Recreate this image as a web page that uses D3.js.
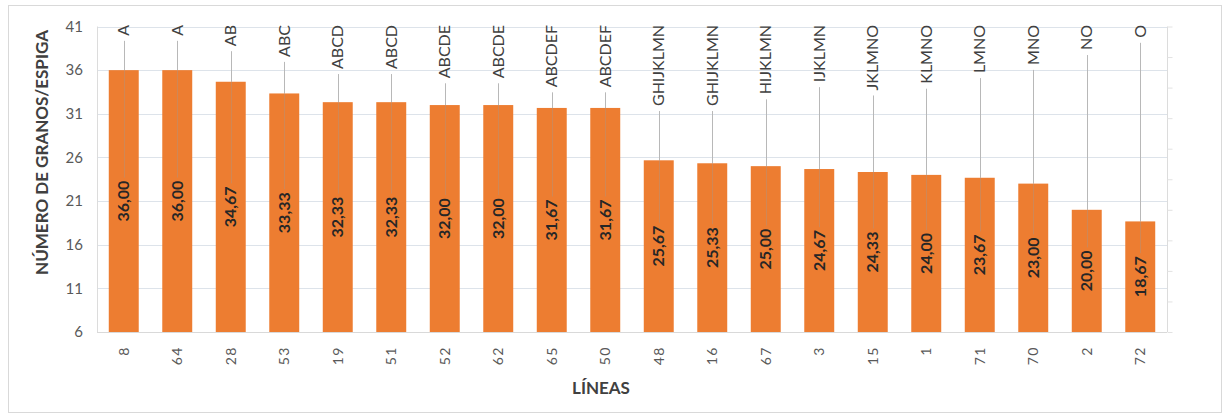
<!DOCTYPE html>
<html>
<head>
<meta charset="utf-8">
<script src="https://cdn.jsdelivr.net/npm/d3@7"></script>
<style>
  html, body { margin: 0; padding: 0; background: #fff; }
  svg { display: block; }
</style>
</head>
<body>
<svg id="chart" width="1226" height="419"></svg>
<script>
// Lines (genotypes) ordered by mean grains per spike
const lineas = ["8", "64", "28", "53", "19", "51", "52", "62", "65", "50",
                "48", "16", "67", "3", "15", "1", "71", "70", "2", "72"];
const granos = [36.00, 36.00, 34.67, 33.33, 32.33, 32.33, 32.00, 32.00, 31.67, 31.67,
                25.67, 25.33, 25.00, 24.67, 24.33, 24.00, 23.67, 23.00, 20.00, 18.67];
// Mean-separation letters
const letras = ["A", "A", "AB", "ABC", "ABCD", "ABCD", "ABCDE", "ABCDE", "ABCDEF", "ABCDEF",
                "GHIJKLMN", "GHIJKLMN", "HIJKLMN", "IJKLMN", "JKLMNO", "KLMNO", "LMNO", "MNO", "NO", "O"];
const yTicks = [6, 11, 16, 21, 26, 31, 36, 41];

const data = lineas.map((l, i) => ({ linea: l, valor: granos[i], letra: letras[i] }));

const svg = d3.select("#chart");
const font = "Lato, 'Open Sans', sans-serif";

const plot = { left: 97, right: 1167, top: 26.5, bottom: 332 };

// outer chart frame
svg.append("rect")
  .attr("x", 8.5).attr("y", 5.5)
  .attr("width", 1213).attr("height", 407)
  .attr("fill", "#fff").attr("stroke", "#d9d9d9").attr("stroke-width", 1);

const x = d3.scaleBand()
  .domain(lineas)
  .range([plot.left, plot.right])
  .paddingInner(0.44)
  .paddingOuter(0.22);

const y = d3.scaleLinear()
  .domain([6, 41])
  .range([plot.bottom, plot.top]);

const cx = d => x(d.linea) + x.bandwidth() / 2;
const midY = d => (y(d.valor) + y(6)) / 2;

// horizontal gridlines
svg.append("g")
  .selectAll("line")
  .data(yTicks)
  .join("line")
  .attr("x1", plot.left).attr("x2", plot.right)
  .attr("y1", d => Math.round(y(d)) + 0.5).attr("y2", d => Math.round(y(d)) + 0.5)
  .attr("stroke", "#dde3ea").attr("stroke-width", 1);

// plot area side borders
svg.append("line")
  .attr("x1", plot.left + 0.5).attr("x2", plot.left + 0.5)
  .attr("y1", plot.top).attr("y2", plot.bottom)
  .attr("stroke", "#dcdcdc");
svg.append("line")
  .attr("x1", plot.right + 0.5).attr("x2", plot.right + 0.5)
  .attr("y1", plot.top).attr("y2", plot.bottom)
  .attr("stroke", "#dcdcdc");

// secondary axis tick marks on the right
const y2 = d3.scaleLinear().domain([0, 10]).range([plot.bottom, plot.top]);
const axR = svg.append("g")
  .attr("transform", `translate(${plot.right + 0.5},0)`)
  .call(d3.axisRight(y2).ticks(10).tickSize(5).tickFormat(""));
axR.select(".domain").remove();
axR.selectAll("line").attr("stroke", "#e2e2e2");

// y axis labels
const axL = svg.append("g")
  .attr("transform", `translate(${plot.left},0)`)
  .call(d3.axisLeft(y).tickValues(yTicks).tickSize(0).tickPadding(14));
axL.select(".domain").remove();
axL.selectAll("text")
  .attr("font-family", font).attr("font-size", 15)
  .attr("fill", "#595959");

// letters above bars
const letterText = svg.append("g")
  .selectAll("text")
  .data(data)
  .join("text")
  .attr("transform", d => `translate(${cx(d)},${plot.top - 1.5}) rotate(-90)`)
  .attr("text-anchor", "end")
  .attr("dy", "0.35em")
  .attr("font-family", font).attr("font-size", 16)
  .attr("fill", "#404040")
  .text(d => d.letra);

letterText.each(function(d) {
  d.labelEnd = plot.top - 1.5 + this.getComputedTextLength() + 5;
});

const valueFmt = v => d3.format(".2f")(v).replace(".", ",");

// leader lines above the bars
svg.append("g")
  .selectAll("line")
  .data(data.filter(d => d.labelEnd < y(d.valor)))
  .join("line")
  .attr("x1", d => Math.round(cx(d)) + 0.5)
  .attr("x2", d => Math.round(cx(d)) + 0.5)
  .attr("y1", d => d.labelEnd)
  .attr("y2", d => y(d.valor))
  .attr("stroke", "#b8b8b8").attr("stroke-width", 1);

// bars
svg.append("g")
  .selectAll("rect")
  .data(data)
  .join("rect")
  .attr("x", d => x(d.linea))
  .attr("y", d => y(d.valor))
  .attr("width", x.bandwidth())
  .attr("height", d => y(6) - y(d.valor))
  .attr("fill", "#ed7d31");

// value labels centred inside the bars
const valueText = svg.append("g")
  .selectAll("text")
  .data(data)
  .join("text")
  .attr("transform", d => `translate(${cx(d)},${midY(d)}) rotate(-90)`)
  .attr("text-anchor", "middle")
  .attr("dy", "0.35em")
  .attr("font-family", font).attr("font-size", 16).attr("font-weight", "bold")
  .attr("fill", "#262626")
  .text(d => valueFmt(d.valor));

valueText.each(function(d) {
  d.valueTop = midY(d) - this.getComputedTextLength() / 2 - 3;
});

// faint continuation of the leader lines over the bars
svg.append("g")
  .selectAll("line")
  .data(data)
  .join("line")
  .attr("x1", d => Math.round(cx(d)) + 0.5)
  .attr("x2", d => Math.round(cx(d)) + 0.5)
  .attr("y1", d => y(d.valor))
  .attr("y2", d => d.valueTop)
  .attr("stroke", "#9a9a9a").attr("stroke-opacity", 0.35).attr("stroke-width", 1);

// bottom axis line
svg.append("line")
  .attr("x1", plot.left).attr("x2", plot.right)
  .attr("y1", plot.bottom + 0.5).attr("y2", plot.bottom + 0.5)
  .attr("stroke", "#d9d9d9");

// category labels
svg.append("g")
  .selectAll("text")
  .data(data)
  .join("text")
  .attr("transform", d => `translate(${cx(d)},${plot.bottom + 14}) rotate(-90)`)
  .attr("text-anchor", "end")
  .attr("dy", "0.35em")
  .attr("font-family", font).attr("font-size", 14)
  .attr("letter-spacing", "1.5px")
  .attr("fill", "#595959")
  .text(d => d.linea);

// axis titles
svg.append("text")
  .attr("transform", `translate(42,${(28 + 277) / 2}) rotate(-90)`)
  .attr("text-anchor", "middle")
  .attr("dy", "0.35em")
  .attr("font-family", font).attr("font-size", 17).attr("font-weight", "bold")
  .attr("fill", "#404040")
  .text("NÚMERO DE GRANOS/ESPIGA");

svg.append("text")
  .attr("x", 601).attr("y", 388)
  .attr("text-anchor", "middle")
  .attr("dy", "0.35em")
  .attr("font-family", font).attr("font-size", 17).attr("font-weight", "bold")
  .attr("fill", "#404040")
  .text("LÍNEAS");
</script>
</body>
</html>
